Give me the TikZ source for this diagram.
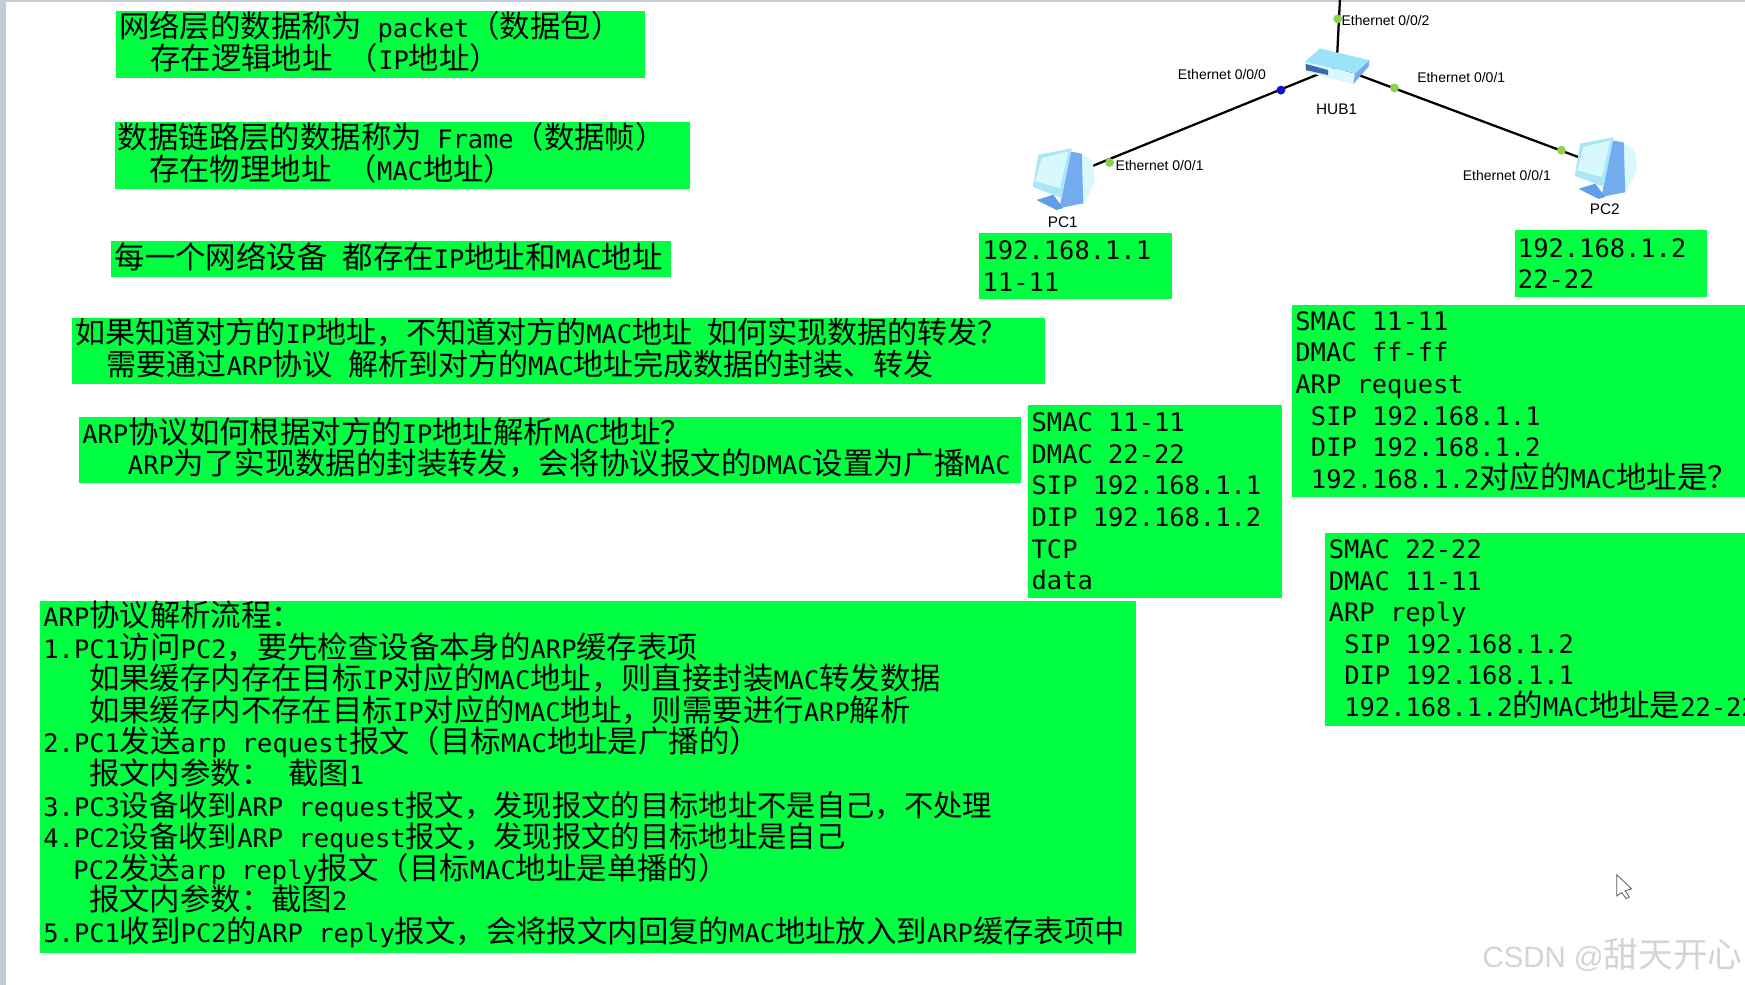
\documentclass[tikz,border=0pt]{standalone}
\usepackage{fontspec}
\setmainfont{Liberation Sans}
\newfontfamily\monof{DejaVu Sans Mono}
\newfontfamily\cjk{Noto Sans CJK SC}
\usepackage{xcolor}
\definecolor{gfill}{HTML}{00FF40}
\definecolor{port}{HTML}{8FD14F}
\definecolor{portb}{HTML}{0A14C8}
\definecolor{edge}{HTML}{C5CBD6}
\definecolor{pclt}{HTML}{D9F8FC}
\definecolor{pcmd}{HTML}{A9E6F7}
\definecolor{pcdk}{HTML}{74ABEE}
\definecolor{pcbs}{HTML}{5F9DEA}
\definecolor{hubtop}{HTML}{9BE3F8}
\definecolor{hubport}{HTML}{3F66A8}
\newlength\ux
\setlength\ux{0.8347pt}
\newcommand\zhn[1]{{\cjk\fontsize{22.8}{23.7}\selectfont #1}}
\newcommand\zhm[1]{{\cjk\fontsize{22.5}{23.7}\selectfont #1}}
\newcommand\zhs[1]{{\cjk\fontsize{22}{23.7}\selectfont #1}}
\newcommand\ind[1]{\hspace*{#1\ux}}
\newcommand\liftup{\par\nointerlineskip\hrule height 5\ux width 0pt}
\newcommand\monosp{\spaceskip=11.48pt\relax}
\usetikzlibrary{positioning}
\tikzset{
  gbox/.style={fill=gfill,anchor=north west,inner xsep=3\ux,inner ysep=0pt,outer sep=0pt,align=left,
    font=\monof\fontsize{19.07}{23.7}\selectfont,execute at begin node=\monosp},
  devlab/.style={inner sep=0pt,font=\fontsize{10.5}{12}\selectfont},
  pclab/.style={inner sep=0pt,font=\fontsize{11.5}{13}\selectfont},
  dot/.style={circle,inner sep=0pt,minimum size=8\ux,fill=port},
  hold/.style={inner sep=0pt,minimum size=0pt},
  link/.style={draw=black,line width=1.7pt},
  pcicon/.pic={
    \fill[pclt] (17,-22)--(27,-15)--(29,3)--(18,25)--cycle;
    \fill[pcdk] (6,-24)--(17,-22)--(18.4,22.7)--(-3,27)--cycle;
    \fill[pcbs] (-23.5,19.7)--(-8.6,15)--(0.4,27)--(-5.6,28.7)--cycle;
    \fill[pcmd] (-22,-21)--(8,-26.7)--(-1,18)--(-27,8)--cycle;
    \fill[pclt] (-19,-18)--(5,-24)--(-2.6,9)--(-25,3)--cycle;
  },
  hubicon/.pic={
    \fill[pclt] (-28.4,-4.5)--(16.5,6)--(15,15.5)--(-28.4,4.4)--cycle;
    \fill[pcdk] (16.5,6)--(29.4,-6)--(28.8,0)--(15,15.5)--cycle;
    \fill[hubtop] (-15,-16.5)--(29.4,-6)--(16.5,6)--(-28.4,-4.5)--cycle;
    \fill[hubport] (-27.5,-2.5)--(-7.5,3)--(-7.5,7.5)--(-27.5,3)--cycle;
  },
}
\begin{document}
\begin{tikzpicture}[x=\ux,y=-\ux]
\useasboundingbox (0,0) rectangle (1568,885);
\fill[white] (0,0) rectangle (1568,885);
\fill[edge] (0,0) rectangle (5,885);
\fill[edge] (0,0) rectangle (1568,1.5);
% left column
\node[gbox,text width=470\ux,minimum height=60\ux] (packet) at (104,10) {\zhn{网络层的数据称为} packet\zhn{（数据包）}\\\ind{28}\zhn{存在逻辑地址} \zhn{（}IP\zhn{地址）}\liftup};
\node[gbox,text width=511\ux,minimum height=60\ux] (frame) at (103,110) {\zhn{数据链路层的数据称为} Frame\zhn{（数据帧）}\\\ind{28}\zhn{存在物理地址} \zhn{（}MAC\zhn{地址）}\liftup};
\node[gbox,text width=497\ux,minimum height=32\ux] (every) at (100,217) {\zhn{每一个网络设备} \zhn{都存在}IP\zhn{地址和}MAC\zhn{地址}\liftup};
\node[gbox,text width=868\ux,minimum height=59\ux] (know) at (65,286) {\zhm{如果知道对方的}IP\zhm{地址，不知道对方的}MAC\zhm{地址} \zhm{如何实现数据的转发？}\\\ind{28}\zhm{需要通过}ARP\zhm{协议} \zhm{解析到对方的}MAC\zhm{地址完成数据的封装、转发}\liftup};
\node[gbox,text width=840\ux,minimum height=59\ux] (how) at (71,375) {ARP\zhn{协议如何根据对方的}IP\zhn{地址解析}MAC\zhn{地址？}\\\ind{41}ARP\zhn{为了实现数据的封装转发，会将协议报文的}DMAC\zhn{设置为广播}MAC\liftup};
\node[gbox,text width=979\ux,minimum height=315\ux] (flow) at (36,540) {ARP\zhn{协议解析流程：}\\
1.PC1\zhn{访问}PC2\zhn{，要先检查设备本身的}ARP\zhn{缓存表项}\\
\ind{41}\zhn{如果缓存内存在目标}IP\zhn{对应的}MAC\zhn{地址，则直接封装}MAC\zhn{转发数据}\\
\ind{41}\zhn{如果缓存内不存在目标}IP\zhn{对应的}MAC\zhn{地址，则需要进行}ARP\zhn{解析}\\
2.PC1\zhn{发送}arp request\zhn{报文（目标}MAC\zhn{地址是广播的）}\\
\ind{41}\zhn{报文内参数：}\ind{15}\zhn{截图}1\\
3.PC3\zhs{设备收到}ARP request\zhs{报文，发现报文的目标地址不是自己，不处理}\\
4.PC2\zhs{设备收到}ARP request\zhs{报文，发现报文的目标地址是自己}\\
\ind{27}PC2\zhn{发送}arp reply\zhn{报文（目标}MAC\zhn{地址是单播的）}\\
\ind{41}\zhn{报文内参数：截图}2\\
5.PC1\zhn{收到}PC2\zhn{的}ARP reply\zhn{报文，会将报文内回复的}MAC\zhn{地址放入到}ARP\zhn{缓存表项中}\liftup};
% frames
\node[gbox,text width=222\ux,minimum height=173\ux] (data) at (924,364) {SMAC 11-11\\DMAC 22-22\\SIP 192.168.1.1\\DIP 192.168.1.2\\TCP\\data};
\node[gbox,text width=401\ux,minimum height=173\ux] (req) at (1161,274) {SMAC 11-11\\DMAC ff-ff\\ARP request\\\ind{14}SIP 192.168.1.1\\\ind{14}DIP 192.168.1.2\\\ind{14}192.168.1.2\zhn{对应的}MAC\zhn{地址是？}};
\node[gbox,text width=371\ux,minimum height=173\ux] (rep) at (1191,479) {SMAC 22-22\\DMAC 11-11\\ARP reply\\\ind{14}SIP 192.168.1.2\\\ind{14}DIP 192.168.1.1\\\ind{14}\mbox{192.168.1.2\zhn{的}MAC\zhn{地址是}22-22}};
\node[gbox,text width=167\ux,minimum height=60\ux] (ip1) at (880,209) {192.168.1.1\\11-11};
\node[gbox,text width=167\ux,minimum height=60\ux] (ip2) at (1361,207) {192.168.1.2\\22-22};
% topology
\node[hold] (hub) at (1201,60) {};
\node[hold] (pc1) at (955,160) {};
\node[hold] (pc2) at (1442,150) {};
\coordinate (up) at (1204,0);
\draw[link] (up)--(hub);
\draw[link] (pc1)--(hub);
\draw[link] (hub)--(pc2);
\pic at (hub) {hubicon};
\pic at (pc1) {pcicon};
\pic at (pc2) {pcicon};
\node[dot] (p2) at (1202,17) {};
\node[dot,fill=portb] (p0) at (1151,81) {};
\node[dot] (p1) at (1253,79) {};
\node[dot] (p3) at (997,146) {};
\node[dot] (p4) at (1403,135) {};
\node[devlab] (e2) at (1245,18) {Ethernet 0/0/2};
\node[devlab] (e0) at (1098,67) {Ethernet 0/0/0};
\node[devlab] (e1) at (1313,70) {Ethernet 0/0/1};
\node[devlab] (e3) at (1042,149) {Ethernet 0/0/1};
\node[devlab] (e4) at (1354,158) {Ethernet 0/0/1};
\node[pclab] (hublab) at (1201,98) {HUB1};
\node[pclab] (pc1lab) at (955,200) {PC1};
\node[pclab] (pc2lab) at (1442,188) {PC2};
% cursor, watermark
\draw[fill=white,draw=black!65,line width=.6pt] (1452.7,786)--++(0,19)--++(4.5,-3)--++(4,5.5)--++(3,-1.5)--++(-4,-5.5)--++(6,-1.8)--cycle;
\node[inner sep=0pt,text=black!17,font=\fontsize{22}{24}\selectfont] (mark) at (1449,858) {CSDN @{\cjk\fontsize{26}{28}\selectfont 甜天开心}};
\end{tikzpicture}
\end{document}
